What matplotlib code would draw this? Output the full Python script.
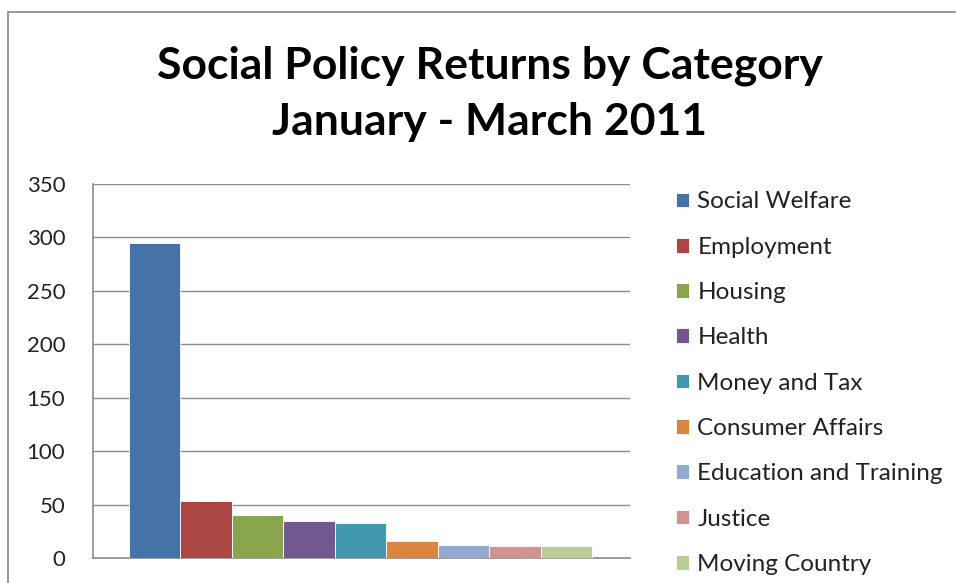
import matplotlib
matplotlib.use("Agg")
import matplotlib.pyplot as plt
from matplotlib.patches import Rectangle

categories = ["Social Welfare", "Employment", "Housing", "Health", "Money and Tax",
              "Consumer Affairs", "Education and Training", "Justice", "Moving Country"]
values = [295, 53, 40, 35, 33, 16, 12, 11, 11]
colors = ["#4572A7", "#AA4643", "#89A54E", "#71588F", "#4198AF",
          "#DB843D", "#93A9CF", "#D19392", "#B9CD96"]
yticks = [0, 50, 100, 150, 200, 250, 300, 350]
title = "Social Policy Returns by Category\nJanuary - March 2011"

plt.rcParams['font.family'] = ['Lato', 'DejaVu Sans']

W, H = 956, 583
fig = plt.figure(figsize=(W / 100, H / 100), dpi=100)

# outer chart border (left and top visible)
fig.patches.append(Rectangle((8 / W, -0.1), 1.2, (H - 12) / H + 0.1, transform=fig.transFigure,
                             fill=False, edgecolor="#868686", linewidth=1.2))

ax = fig.add_axes([93 / W, (H - 558) / H, (630 - 93) / W, (558 - 184) / H])
for i, (c, v, col) in enumerate(zip(categories, values, colors)):
    ax.bar(i, v, width=1.0, color=col, edgecolor="white", linewidth=0.6, label=c, zorder=3)

ax.set_xlim(-0.5 - 0.70, len(categories) - 0.5 + 0.74)
ax.set_ylim(0, 350)
ax.set_yticks(yticks)
ax.set_yticklabels([str(t) for t in yticks], fontsize=16, color="#222222")
ax.set_xticks([])
ax.tick_params(axis='y', length=0, pad=20)
ax.grid(axis='y', color="#8c8c8c", linewidth=1.0, zorder=0)
for s in ["top", "right"]:
    ax.spines[s].set_visible(False)
for s in ["left", "bottom"]:
    ax.spines[s].set_color("#8c8c8c")
    ax.spines[s].set_linewidth(1.2)

fig.text(490 / W, 1 - 94 / H, title, ha="center", va="center", fontsize=32,
         fontweight="bold", linespacing=1.5, color="#000000")

leg = ax.legend(loc="upper left", bbox_to_anchor=(676 / W, 1 - 191.5 / H),
                bbox_transform=fig.transFigure, frameon=False, fontsize=17.5,
                handlelength=0.55, handleheight=0.55, handletextpad=0.33,
                labelspacing=1.0, borderpad=0, borderaxespad=0)
for t in leg.get_texts():
    t.set_color("#222222")

fig.savefig("out.png", dpi=100)
